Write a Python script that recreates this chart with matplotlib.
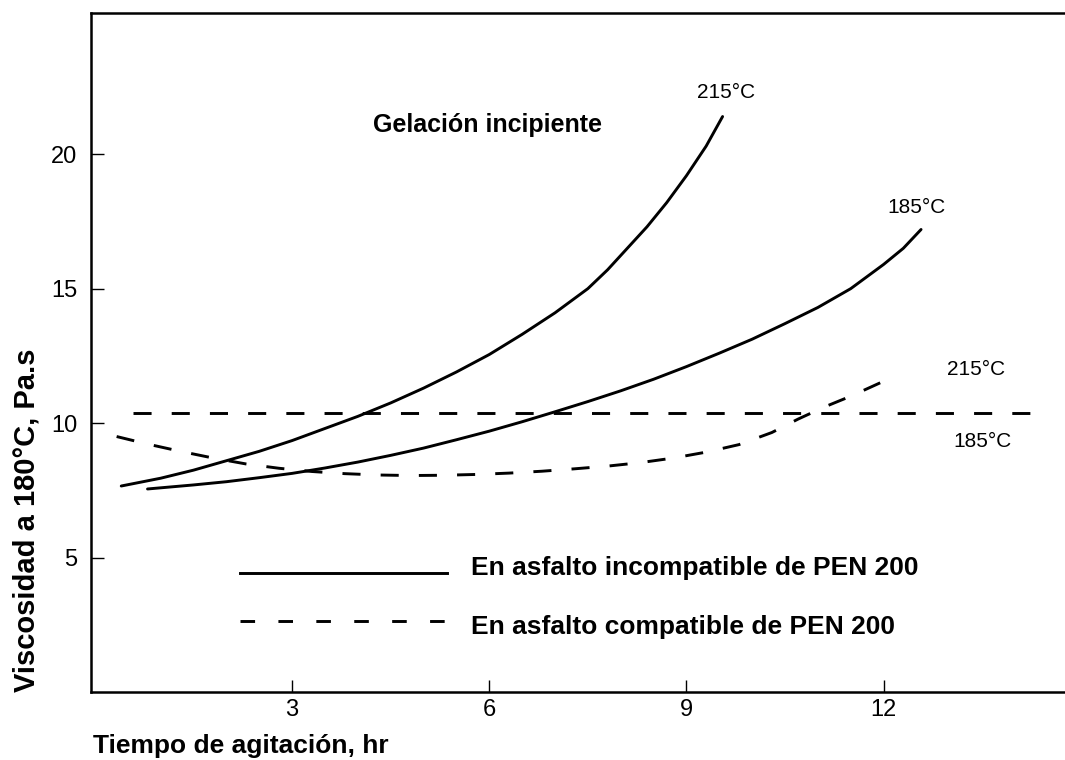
import matplotlib
matplotlib.use("Agg")
import matplotlib.pyplot as plt

plt.rcParams['font.family'] = ['Liberation Sans', 'DejaVu Sans']

# Data (hours, viscosity Pa.s)
x_inc_215 = [0.4, 1.0, 1.5, 2.0, 2.5, 3.0, 3.5, 4.0, 4.5, 5.0, 5.5, 6.0, 6.5, 7.0,
             7.5, 7.8, 8.1, 8.4, 8.7, 9.0, 9.3, 9.55]
y_inc_215 = [7.66, 7.95, 8.25, 8.6, 8.95, 9.35, 9.8, 10.25, 10.75, 11.3, 11.9, 12.55,
             13.3, 14.1, 15.0, 15.7, 16.5, 17.3, 18.2, 19.2, 20.3, 21.4]

x_inc_185 = [0.8, 1.5, 2.0, 2.5, 3.0, 3.5, 4.0, 4.5, 5.0, 5.5, 6.0, 6.5, 7.0, 7.5,
             8.0, 8.5, 9.0, 9.5, 10.0, 10.5, 11.0, 11.5, 12.0, 12.3, 12.57]
y_inc_185 = [7.55, 7.7, 7.82, 7.97, 8.13, 8.33, 8.55, 8.8, 9.07, 9.38, 9.7, 10.05,
             10.42, 10.8, 11.2, 11.63, 12.1, 12.6, 13.12, 13.7, 14.3, 15.0, 15.9,
             16.5, 17.2]

x_com_215 = [0.33, 0.8, 1.3, 1.8, 2.3, 2.8, 3.3, 3.8, 4.3, 4.8, 5.3, 5.8, 6.3, 6.8,
             7.3, 7.8, 8.3, 8.8, 9.3, 9.8, 10.3, 10.7, 11.1, 11.5, 11.95]
y_com_215 = [9.5, 9.22, 8.95, 8.7, 8.48, 8.32, 8.2, 8.12, 8.07, 8.05, 8.06, 8.09,
             8.14, 8.21, 8.3, 8.4, 8.53, 8.7, 8.92, 9.2, 9.65, 10.15, 10.6, 11.0, 11.5]

x_com_185 = [0.58, 14.34]
y_com_185 = [10.37, 10.37]

x_ticks = [3, 6, 9, 12]
y_ticks = [5, 10, 15, 20]

fig = plt.figure(figsize=(10.65, 7.6), dpi=100)
ax = fig.add_axes([91/1065, 68/760, (1065-91)/1065, (692-13)/760])

lw = 2.1
dash = (6.2, 6.9)
ax.plot(x_inc_215, y_inc_215, color='black', lw=lw, solid_capstyle='round')
ax.plot(x_inc_185, y_inc_185, color='black', lw=lw, solid_capstyle='round')
ax.plot(x_com_215, y_com_215, color='black', lw=lw, dashes=dash)
ax.plot(x_com_185, y_com_185, color='black', lw=lw, dashes=dash)

ax.set_xlim(-0.06, 14.76)
ax.set_ylim(0, 25.25)
ax.set_xticks(x_ticks)
ax.set_yticks(y_ticks)
ax.tick_params(direction='in', length=9, width=1.0, labelsize=17)
ax.tick_params(axis='x', pad=5)
ax.tick_params(axis='y', pad=10)
ax.spines['right'].set_visible(False)
for s in ['left', 'bottom', 'top']:
    ax.spines[s].set_linewidth(1.8)

# curve labels
ax.text(9.6, 22.3, '215°C', fontsize=15, ha='center', va='center')
ax.text(12.5, 18.0, '185°C', fontsize=15, ha='center', va='center')
ax.text(13.4, 12.0, '215°C', fontsize=15, ha='center', va='center')
ax.text(13.5, 9.3, '185°C', fontsize=15, ha='center', va='center')
ax.text(7.72, 21.1, 'Gelación incipiente', fontsize=18, fontweight='bold',
        ha='right', va='center')

# legend drawn manually
ax.plot([2.2, 5.36], [4.42, 4.42], color='black', lw=lw)
ax.plot([2.2, 5.36], [2.64, 2.64], color='black', lw=lw, dashes=(5, 8))
ax.text(5.72, 4.6, 'En asfalto incompatible de PEN 200', fontsize=19,
        fontweight='bold', ha='left', va='center')
ax.text(5.72, 2.4, 'En asfalto compatible de PEN 200', fontsize=19,
        fontweight='bold', ha='left', va='center')

fig.text(27/1065, 1 - 520/760, 'Viscosidad a 180°C, Pa.s', rotation=90, fontsize=21,
         fontweight='bold', ha='center', va='center')
fig.text(93/1065, 1 - 746/760, 'Tiempo de agitación, hr', fontsize=19,
         fontweight='bold', ha='left', va='center')

fig.savefig('out.png', dpi=100)
